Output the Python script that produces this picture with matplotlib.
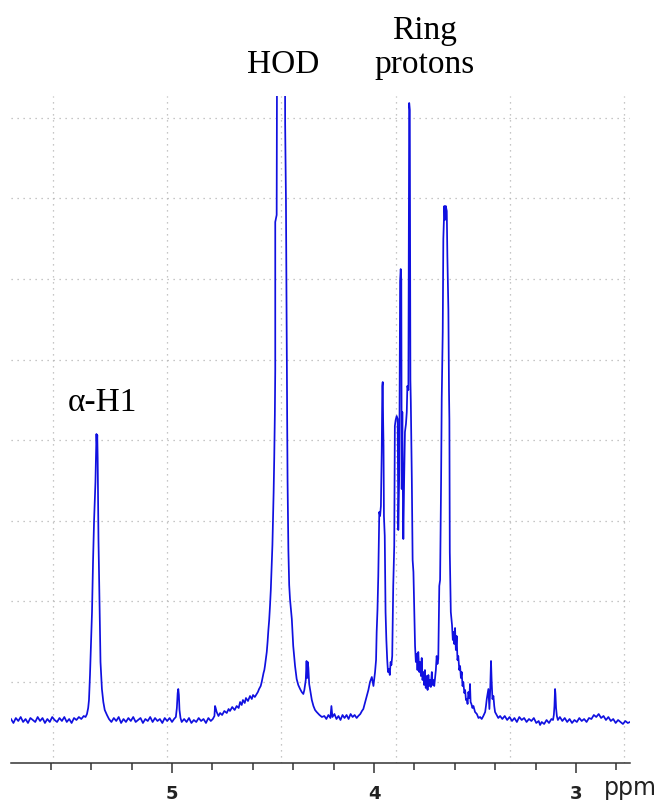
import numpy as np
import matplotlib
matplotlib.use("Agg")
import matplotlib.pyplot as plt

# --- spectrum trace: (shift in ppm, intensity a.u.) ---
baseline_left = [(5.797, 1), (5.785, -3), (5.773, 2), (5.761, -1), (5.749, 3), (5.737, -2),
                 (5.725, 1), (5.713, -3), (5.701, 2), (5.689, 0), (5.677, -2), (5.665, 3),
                 (5.653, -1), (5.641, 2), (5.629, -3), (5.617, 1), (5.605, -2), (5.593, 3),
                 (5.581, 0), (5.569, -2), (5.557, 2), (5.545, -1), (5.533, 3), (5.521, -2),
                 (5.509, 1), (5.497, -3), (5.485, 2), (5.473, 0), (5.461, 3), (5.449, 1),
                 (5.437, 4)]
alpha_h1 = [(5.428, 3), (5.421, 6), (5.415, 12), (5.411, 20), (5.406, 45), (5.401, 75),
            (5.396, 108), (5.391, 158), (5.386, 198), (5.381, 226), (5.379, 238),
            (5.376, 268), (5.374, 286), (5.372, 276), (5.370, 285), (5.368, 262),
            (5.366, 220), (5.364, 180), (5.361, 141), (5.357, 95), (5.354, 58),
            (5.347, 31), (5.340, 18), (5.333, 10), (5.322, 5), (5.312, 1)]
baseline_mid = [(5.300, -2), (5.288, 2), (5.276, -1), (5.264, 3), (5.252, -3), (5.240, 1),
                (5.228, -2), (5.216, 2), (5.204, -1), (5.192, 3), (5.180, -2), (5.168, 0),
                (5.156, 2), (5.144, -3), (5.132, 1), (5.120, -1), (5.108, 3), (5.096, -2),
                (5.084, 2), (5.072, -1), (5.060, 1), (5.048, -3), (5.036, 2), (5.024, -1),
                (5.012, 2), (5.000, -2), (4.990, 1)]
peak_497 = [(4.981, 3), (4.976, 12), (4.972, 27), (4.969, 31), (4.966, 25), (4.963, 10),
            (4.958, 2), (4.952, -2)]
hod_left = [(4.940, 1), (4.928, -2), (4.916, 2), (4.904, -3), (4.892, 0), (4.880, -2),
            (4.868, 2), (4.856, -1), (4.844, 1), (4.832, -3), (4.820, 2), (4.808, -1),
            (4.798, 1), (4.790, 4), (4.787, 14), (4.784, 12), (4.779, 8), (4.770, 4),
            (4.762, 7), (4.752, 5), (4.741, 9), (4.729, 7), (4.720, 11), (4.713, 9),
            (4.702, 13), (4.690, 10), (4.680, 14), (4.670, 12), (4.663, 18), (4.655, 15),
            (4.649, 20), (4.640, 17), (4.634, 22), (4.624, 19), (4.614, 24), (4.605, 21),
            (4.599, 25), (4.590, 23), (4.581, 26), (4.575, 28), (4.569, 31), (4.561, 34),
            (4.556, 38), (4.551, 43), (4.547, 47), (4.543, 50), (4.540, 54), (4.535, 62),
            (4.531, 68), (4.527, 78), (4.523, 90), (4.519, 100), (4.515, 114),
            (4.511, 130), (4.507, 152), (4.503, 175), (4.500, 200), (4.497, 228),
            (4.494, 262), (4.491, 305), (4.489, 350), (4.489, 498), (4.482, 505),
            (4.480, 700)]
hod_top = [(4.470, 1200), (4.452, 1200)]
hod_right = [(4.441, 700), (4.440, 596), (4.436, 520), (4.432, 361), (4.430, 300),
             (4.428, 238), (4.424, 170), (4.420, 135), (4.416, 121), (4.407, 101),
             (4.400, 74), (4.391, 54), (4.383, 41), (4.375, 35), (4.366, 31), (4.358, 28),
             (4.350, 26), (4.345, 30), (4.338, 40), (4.334, 59), (4.331, 42), (4.328, 58),
             (4.325, 52), (4.321, 36), (4.317, 31), (4.308, 20), (4.300, 14), (4.292, 10),
             (4.284, 8), (4.270, 5), (4.258, 3)]
baseline_ring = [(4.246, 4), (4.236, 1), (4.226, 5), (4.216, 2), (4.211, 14), (4.206, 3),
                 (4.196, 6), (4.186, 1), (4.176, 4), (4.166, 0), (4.156, 5), (4.146, 2),
                 (4.136, 5), (4.126, 1), (4.116, 6), (4.106, 3), (4.096, 5), (4.086, 2),
                 (4.078, 4), (4.068, 6), (4.060, 9), (4.053, 11), (4.045, 17), (4.036, 24),
                 (4.028, 30), (4.020, 38), (4.011, 43), (4.003, 34)]
ring_396 = [(3.995, 48), (3.990, 60), (3.987, 88), (3.983, 110), (3.979, 144), (3.974, 208),
            (3.970, 204), (3.966, 214), (3.962, 268), (3.959, 334), (3.957, 338),
            (3.955, 300), (3.953, 274), (3.951, 204), (3.947, 184), (3.943, 108),
            (3.939, 80), (3.935, 61), (3.931, 48), (3.927, 51), (3.922, 45), (3.918, 58),
            (3.914, 55), (3.910, 64), (3.905, 134), (3.900, 174)]
ring_385 = [(3.897, 294), (3.893, 300), (3.888, 304), (3.883, 301), (3.880, 190),
            (3.875, 250), (3.871, 439), (3.868, 451), (3.865, 440), (3.863, 231),
            (3.860, 308), (3.857, 220), (3.855, 181), (3.851, 240), (3.847, 288),
            (3.842, 296), (3.838, 308), (3.835, 334), (3.830, 330), (3.826, 617),
            (3.823, 610), (3.820, 340), (3.818, 319), (3.813, 241), (3.809, 160),
            (3.805, 148), (3.802, 120), (3.797, 74), (3.793, 58), (3.789, 66), (3.785, 50),
            (3.781, 68), (3.776, 48), (3.772, 58), (3.768, 44), (3.764, 62), (3.760, 40),
            (3.756, 48), (3.752, 35), (3.748, 50), (3.744, 32), (3.739, 44), (3.735, 30),
            (3.731, 45), (3.727, 34), (3.723, 40), (3.719, 33), (3.714, 48), (3.710, 35),
            (3.706, 40), (3.702, 34), (3.698, 42), (3.694, 50), (3.690, 64), (3.686, 56),
            (3.682, 61)]
ring_365 = [(3.677, 134), (3.673, 140), (3.668, 241), (3.665, 321), (3.660, 388),
            (3.657, 481), (3.652, 514), (3.649, 500), (3.645, 514), (3.640, 509),
            (3.637, 464), (3.632, 410), (3.629, 330), (3.627, 300), (3.625, 168),
            (3.620, 108), (3.614, 95), (3.610, 80), (3.607, 88), (3.603, 76), (3.599, 92),
            (3.595, 70), (3.591, 84), (3.587, 60), (3.583, 64), (3.578, 50), (3.574, 54),
            (3.570, 42), (3.566, 48), (3.562, 34), (3.558, 38), (3.553, 27), (3.549, 30),
            (3.545, 20), (3.541, 21), (3.537, 16), (3.533, 28), (3.528, 22), (3.525, 36),
            (3.522, 18), (3.518, 16), (3.513, 12), (3.508, 14), (3.500, 8), (3.491, 6),
            (3.483, 2), (3.475, 3), (3.467, 1), (3.459, 4)]
peak_343 = [(3.450, 8), (3.446, 14), (3.442, 21), (3.438, 26), (3.434, 31), (3.431, 18),
            (3.429, 11), (3.425, 30), (3.421, 59), (3.418, 40), (3.414, 21), (3.409, 24),
            (3.405, 14), (3.401, 8), (3.393, 5), (3.385, 2), (3.376, 4)]
baseline_right = [(3.365, 1), (3.353, 4), (3.341, 0), (3.329, 3), (3.317, -1), (3.305, 2),
                  (3.293, -2), (3.281, 3), (3.269, 0), (3.257, 2), (3.245, -2), (3.233, 1),
                  (3.221, -1), (3.209, 2), (3.197, -3), (3.185, -1), (3.178, -5),
                  (3.170, -2), (3.158, -4), (3.146, 0), (3.134, -3), (3.122, 1), (3.114, 0)]
peak_310 = [(3.110, 5), (3.107, 14), (3.104, 31), (3.102, 26), (3.099, 12), (3.095, 4),
            (3.090, 0)]
baseline_end = [(3.080, 3), (3.068, -1), (3.056, 2), (3.044, -2), (3.032, 1), (3.020, -3),
                (3.008, 0), (2.996, -2), (2.984, 2), (2.972, -1), (2.960, 1), (2.948, -2),
                (2.936, 2), (2.924, 1), (2.912, 5), (2.900, 3), (2.888, 6), (2.876, 2),
                (2.864, 4), (2.852, 0), (2.840, 3), (2.828, -1), (2.816, 1), (2.804, -3),
                (2.792, 0), (2.780, -2), (2.768, -4), (2.756, -1), (2.744, -3), (2.733, -2)]

segments = [baseline_left, alpha_h1, baseline_mid, peak_497, hod_left, hod_top, hod_right,
            baseline_ring, ring_396, ring_385, ring_365, peak_343, baseline_right,
            peak_310, baseline_end]

tick_major = [5, 4, 3]
tick_labels = ["5", "4", "3"]

# screen grid of the spectrometer software (not tied to the ppm ticks)
grid_ppm = [5.589, 5.025, 4.460, 3.891, 3.327, 2.762]
grid_levels = [38, 119, 199, 280, 360, 441, 522, 602]

trace = np.array([pt for seg in segments for pt in seg])
ppm, inten = trace[:, 0], trace[:, 1]

fig = plt.figure(figsize=(6.58, 8.03), dpi=100)
ax = fig.add_axes([11 / 658, 39 / 803, 619 / 658, 667 / 803])

grid_style = dict(color="#b4b4b4", lw=0.9, linestyle=(0, (1.0, 3.8)), zorder=1)
for g in grid_ppm:
    ax.axvline(g, **grid_style)
for g in grid_levels:
    ax.axhline(g, **grid_style)

ax.plot(ppm, inten, color="#1010e0", lw=1.25, zorder=3)

ax.set_xlim(5.797, 2.733)
ax.set_ylim(-43, 624)

for s in ["left", "right", "top"]:
    ax.spines[s].set_visible(False)
ax.spines["bottom"].set_color("#333333")
ax.spines["bottom"].set_linewidth(1.1)
ax.set_yticks([])

ax.set_xticks(tick_major)
ax.set_xticklabels(tick_labels)
ax.set_xticks(np.arange(5.6, 2.75, -0.2), minor=True)
ax.tick_params(axis="x", which="major", length=7, width=1.1, color="#333333",
               pad=8, labelsize=13)
ax.tick_params(axis="x", which="minor", length=5, width=1.1, color="#333333")
for lab in ax.get_xticklabels():
    lab.set_fontweight("bold")
    lab.set_color("#222222")

fig.text(630 / 658, 8 / 803, "ppm", ha="center", va="baseline", fontsize=17,
         color="#222222")

serif = ["Liberation Serif", "DejaVu Serif"]
ax.text(5.342, 310, "\u03b1-H1", family=serif, fontsize=24, ha="center", va="baseline")
ax.text(4.448, 648, "HOD", family=serif, fontsize=24, ha="center", va="baseline")
ax.text(3.748, 682, "Ring", family=serif, fontsize=24, ha="center", va="baseline")
ax.text(3.748, 648, "protons", family=serif, fontsize=24, ha="center", va="baseline")

fig.savefig("out.png", dpi=100)
